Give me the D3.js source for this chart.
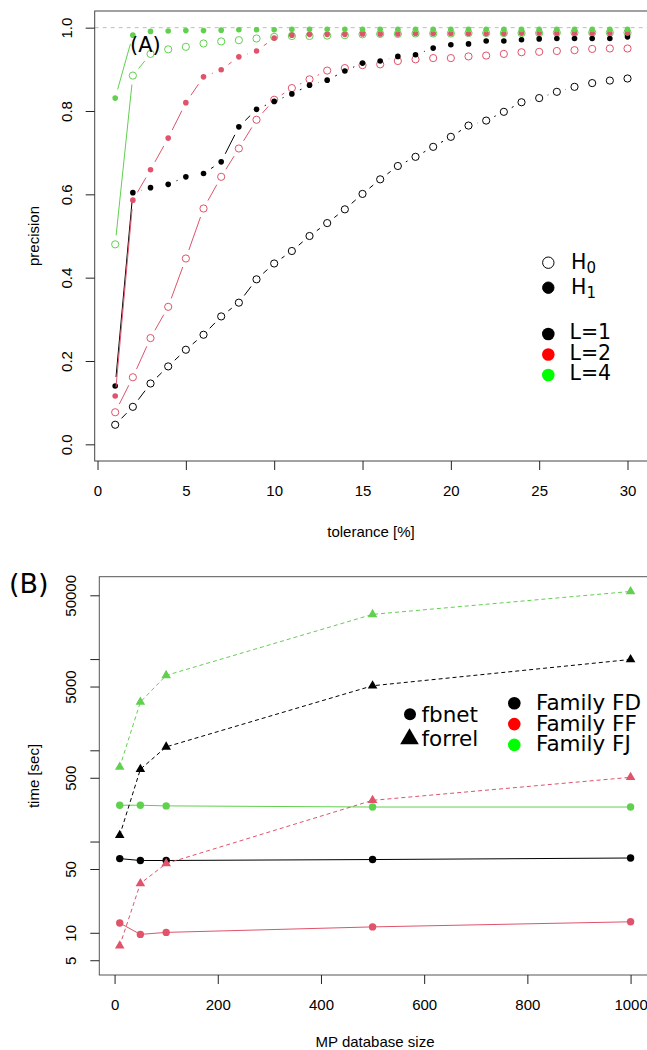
<!DOCTYPE html>
<html>
<head>
<meta charset="utf-8">
<script src="https://cdn.jsdelivr.net/npm/d3@7"></script>
<style>
body{margin:0;background:#fff;}
.axis text{font-family:"Liberation Sans",Arial,sans-serif;font-size:15px;fill:#000;}
.axis line{stroke:#222;}
.lab{font-family:"Liberation Sans",Arial,sans-serif;font-size:15px;fill:#000;}
.leg{font-family:"DejaVu Sans",sans-serif;fill:#000;}
</style>
</head>
<body>
<div id="chart"></div>
<script>
// panel (A): precision vs tolerance
var tolerance=[1,2,3,4,5,6,7,8,9,10,11,12,13,14,15,16,17,18,19,20,21,22,23,24,25,26,27,28,29,30];
var precL1H0=[0.047,0.090,0.146,0.187,0.227,0.263,0.307,0.340,0.396,0.434,0.464,0.500,0.531,0.564,0.601,0.636,0.668,0.690,0.714,0.738,0.765,0.777,0.798,0.821,0.831,0.846,0.858,0.867,0.873,0.878];
var precL1H1=[0.140,0.604,0.616,0.624,0.642,0.650,0.678,0.762,0.804,0.823,0.841,0.862,0.874,0.896,0.915,0.920,0.931,0.935,0.951,0.959,0.961,0.968,0.968,0.971,0.973,0.974,0.974,0.974,0.974,0.978];
var precL2H0=[0.077,0.161,0.255,0.330,0.446,0.566,0.642,0.710,0.779,0.827,0.855,0.876,0.897,0.903,0.910,0.912,0.920,0.924,0.927,0.927,0.931,0.933,0.937,0.941,0.942,0.944,0.946,0.949,0.950,0.950];
var precL2H1=[0.116,0.586,0.659,0.735,0.820,0.882,0.899,0.930,0.944,0.975,0.982,0.984,0.984,0.984,0.985,0.985,0.985,0.986,0.986,0.986,0.986,0.986,0.986,0.987,0.987,0.987,0.987,0.987,0.987,0.987];
var precL4H0=[0.480,0.885,0.937,0.948,0.954,0.962,0.967,0.970,0.974,0.978,0.980,0.980,0.981,0.982,0.984,0.985,0.985,0.986,0.986,0.986,0.987,0.987,0.987,0.987,0.987,0.988,0.988,0.988,0.988,0.988];
var precL4H1=[0.831,0.982,0.991,0.992,0.993,0.993,0.994,0.995,0.995,0.995,0.996,0.996,0.996,0.996,0.996,0.996,0.996,0.996,0.996,0.996,0.996,0.996,0.996,0.996,0.996,0.996,0.996,0.996,0.996,0.996];
var xTicksA=[0,5,10,15,20,25,30];
var yTicksA=[0,0.2,0.4,0.6,0.8,1.0];

// panel (B): time vs MP database size
var mpSize=[10,50,100,500,1000];
var fbnetFD=[65,62,62,63.5,66];
var fbnetFF=[12.8,9.6,10.1,11.6,13.2];
var fbnetFJ=[250,250,246,239,239];
var forrelFD=[117,620,1090,5100,9900];
var forrelFF=[7.2,34.7,57.4,283,506];
var forrelFJ=[656,3380,6620,30900,55100];
var xTicksB=[0,200,400,600,800,1000];
var yTicksB=[5,10,50,100,500,1000,5000,10000,50000];
var yLabelsB=[5,10,50,500,5000,50000];

var pal=["#000000","#DF536B","#61D04F"];
var legCol=["#000000","#FF0000","#00FF00"];

var svg=d3.select("#chart")
	.append("svg")
	.attr("width",647)
	.attr("height",1050);

// R style 4% padding
function pad(lo,hi){var d=(hi-lo)*0.04;return [lo-d,hi+d];}

//---------------- (A)
var xA=d3.scaleLinear().domain(pad(1,30)).range([94.7,648]);
var yA=d3.scaleLinear().domain(pad(0,1)).range([461,11]);

var gA=svg.append("g");
gA.append("line")
	.attr("x1",94.7).attr("x2",648)
	.attr("y1",yA(1)).attr("y2",yA(1))
	.attr("stroke","#bebebe")
	.attr("stroke-dasharray","4,4");

var seriesA=[
	{v:precL1H0,c:pal[0],open:true},
	{v:precL2H0,c:pal[1],open:true},
	{v:precL4H0,c:pal[2],open:true},
	{v:precL1H1,c:pal[0],open:false},
	{v:precL2H1,c:pal[1],open:false},
	{v:precL4H1,c:pal[2],open:false}
];
var gap=9;
seriesA.forEach(function(s){
	for(var i=0;i<tolerance.length-1;i++){
		var x1=xA(tolerance[i]),y1=yA(s.v[i]),x2=xA(tolerance[i+1]),y2=yA(s.v[i+1]);
		var dx=x2-x1,dy=y2-y1,d=Math.sqrt(dx*dx+dy*dy);
		if(d<=2*gap) continue;
		var f=gap/d;
		gA.append("line")
			.attr("x1",x1+dx*f).attr("y1",y1+dy*f)
			.attr("x2",x2-dx*f).attr("y2",y2-dy*f)
			.attr("stroke",s.c).attr("stroke-width",1);
	}
	gA.selectAll(null).data(s.v).enter().append("circle")
		.attr("cx",function(d,i){return xA(tolerance[i]);})
		.attr("cy",function(d){return yA(d);})
		.attr("r",s.open?3.6:2.8)
		.attr("fill",s.open?"none":s.c)
		.attr("stroke",s.open?s.c:"none")
		.attr("stroke-width",1);
});

gA.append("rect")
	.attr("x",94.7).attr("y",11)
	.attr("width",560).attr("height",450)
	.attr("fill","none").attr("stroke","#444");

var axA=gA.append("g").attr("class","axis")
	.attr("transform","translate(0,461)")
	.call(d3.axisBottom(xA).tickValues(xTicksA).tickSize(9).tickFormat(d3.format("d")));
axA.select(".domain").remove();
axA.selectAll("text").attr("y",35).attr("dy",0);

var ayA=gA.append("g").attr("class","axis")
	.attr("transform","translate(94.7,0)")
	.call(d3.axisLeft(yA).tickValues(yTicksA).tickSize(9).tickFormat(d3.format(".1f")));
ayA.select(".domain").remove();
ayA.selectAll("text")
	.attr("transform","rotate(-90)")
	.attr("x",0).attr("y",-23).attr("dy",0)
	.attr("text-anchor","middle");

gA.append("text").attr("class","lab")
	.attr("x",371).attr("y",536.5)
	.attr("text-anchor","middle")
	.text("tolerance [%]");
gA.append("text").attr("class","lab")
	.attr("transform","translate(39,236) rotate(-90)")
	.attr("text-anchor","middle")
	.text("precision");
gA.append("text").attr("class","leg")
	.attr("x",130).attr("y",51.5)
	.attr("font-size",21)
	.text("(A)");

// legend A
var legH=[{t:"0",open:true,y:262.7},{t:"1",open:false,y:287.7}];
legH.forEach(function(h){
	gA.append("circle")
		.attr("cx",548.3).attr("cy",h.y).attr("r",5.7)
		.attr("fill",h.open?"none":"#000")
		.attr("stroke","#000").attr("stroke-width",1);
	var t=gA.append("text").attr("class","leg")
		.attr("x",571).attr("y",h.y+6.5)
		.attr("font-size",20.5)
		.text("H");
	t.append("tspan").attr("font-size",15).attr("dy",4).text(h.t);
});
var legL=["L=1","L=2","L=4"];
legL.forEach(function(l,i){
	var cy=334+i*20.5;
	gA.append("circle")
		.attr("cx",548.3).attr("cy",cy).attr("r",6.3)
		.attr("fill",legCol[i]);
	gA.append("text").attr("class","leg")
		.attr("x",569.5).attr("y",cy+5)
		.attr("font-size",20.5)
		.text(l);
});

//---------------- (B)
var xB=d3.scaleLinear().domain(pad(10,1000)).range([99.3,651]);
var lyB=pad(Math.log10(5),Math.log10(d3.max(forrelFJ)));
var yB=d3.scaleLog().domain([Math.pow(10,lyB[0]),Math.pow(10,lyB[1])]).range([975,576.7]);

var gB=svg.append("g");
var seriesB=[
	{v:fbnetFD,c:pal[0],tri:false},
	{v:fbnetFF,c:pal[1],tri:false},
	{v:fbnetFJ,c:pal[2],tri:false},
	{v:forrelFD,c:pal[0],tri:true},
	{v:forrelFF,c:pal[1],tri:true},
	{v:forrelFJ,c:pal[2],tri:true}
];
var lineB=d3.line()
	.x(function(d,i){return xB(mpSize[i]);})
	.y(function(d){return yB(d);});
var tri=d3.symbol().type(d3.symbolTriangle).size(40);
seriesB.forEach(function(s){
	gB.append("path")
		.attr("d",lineB(s.v))
		.attr("fill","none")
		.attr("stroke",s.c)
		.attr("stroke-width",1)
		.attr("stroke-dasharray",s.tri?"4,3":null);
	if(s.tri){
		gB.selectAll(null).data(s.v).enter().append("path")
			.attr("d",tri)
			.attr("transform",function(d,i){return "translate("+xB(mpSize[i])+","+yB(d)+")";})
			.attr("fill",s.c);
	}else{
		gB.selectAll(null).data(s.v).enter().append("circle")
			.attr("cx",function(d,i){return xB(mpSize[i]);})
			.attr("cy",function(d){return yB(d);})
			.attr("r",3.7)
			.attr("fill",s.c);
	}
});

gB.append("rect")
	.attr("x",99.3).attr("y",576.7)
	.attr("width",560).attr("height",398.3)
	.attr("fill","none").attr("stroke","#555");

var axB=gB.append("g").attr("class","axis")
	.attr("transform","translate(0,975)")
	.call(d3.axisBottom(xB).tickValues(xTicksB).tickSize(9).tickFormat(d3.format("d")));
axB.select(".domain").remove();
axB.selectAll("text").attr("y",35).attr("dy",0);

var ayB=gB.append("g").attr("class","axis")
	.attr("transform","translate(99.3,0)")
	.call(d3.axisLeft(yB).tickValues(yTicksB).tickSize(9)
		.tickFormat(function(d){return yLabelsB.indexOf(d)>=0?String(d):"";}));
ayB.select(".domain").remove();
ayB.selectAll("text")
	.attr("transform","rotate(-90)")
	.attr("x",0).attr("y",-23).attr("dy",0)
	.attr("text-anchor","middle");

gB.append("text").attr("class","lab")
	.attr("x",375).attr("y",1046.5)
	.attr("text-anchor","middle")
	.text("MP database size");
gB.append("text").attr("class","lab")
	.attr("transform","translate(38.5,776) rotate(-90)")
	.attr("text-anchor","middle")
	.text("time [sec]");
gB.append("text").attr("class","leg")
	.attr("x",9).attr("y",593)
	.attr("font-size",27)
	.text("(B)");

// legend B
gB.append("circle").attr("cx",410).attr("cy",714.3).attr("r",6).attr("fill","#000");
gB.append("text").attr("class","leg").attr("x",421.5).attr("y",722)
	.attr("font-size",21.5).text("fbnet");
gB.append("path")
	.attr("d",d3.symbol().type(d3.symbolTriangle).size(150))
	.attr("transform","translate(409.5,739)")
	.attr("fill","#000");
gB.append("text").attr("class","leg").attr("x",421.5).attr("y",746)
	.attr("font-size",21.5).text("forrel");
var fam=["Family FD","Family FF","Family FJ"];
fam.forEach(function(f,i){
	var cy=703.3+i*20.8;
	gB.append("circle").attr("cx",514.3).attr("cy",cy).attr("r",6.3).attr("fill",legCol[i]);
	gB.append("text").attr("class","leg").attr("x",536).attr("y",cy+6.5)
		.attr("font-size",21.5).text(f);
});
</script>
</body>
</html>
